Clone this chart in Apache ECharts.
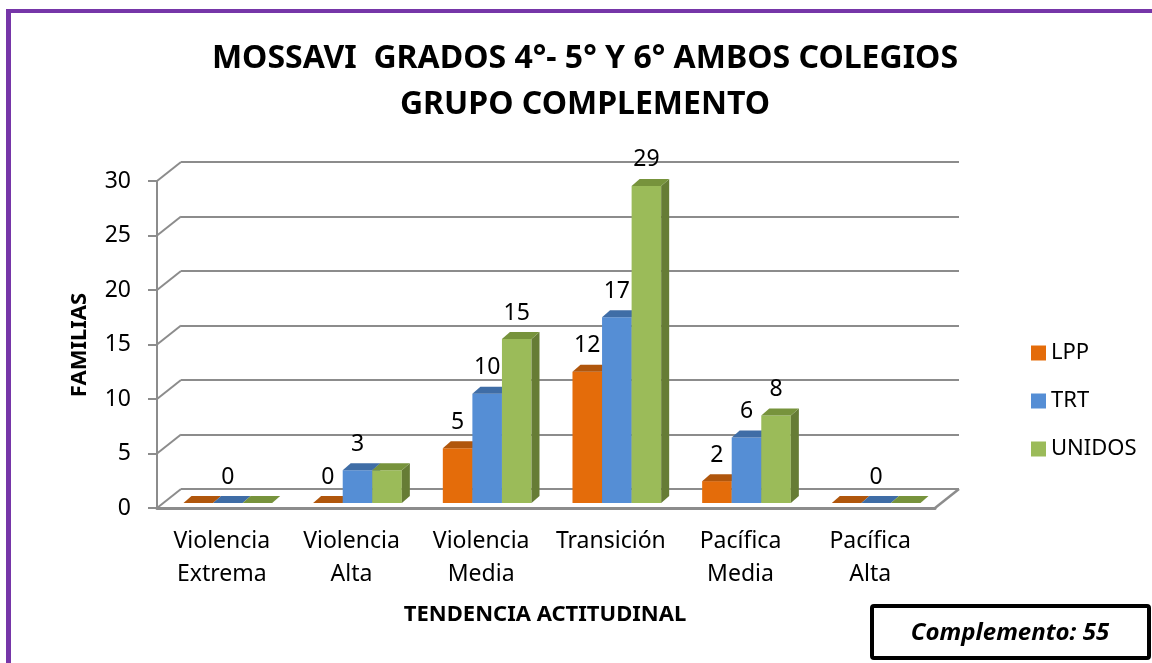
<!DOCTYPE html>
<html>
<head>
<meta charset="utf-8">
<title>MOSSAVI grupo complemento</title>
<script src="https://cdn.jsdelivr.net/npm/echarts@6/dist/echarts.min.js"></script>
<style>
  html, body { margin: 0; padding: 0; background: #fff; }
  #chart { width: 1152px; height: 663px; }
</style>
</head>
<body>
<div id="chart"></div>
<script>
// datos
const categories = ['Violencia\nExtrema', 'Violencia\nAlta', 'Violencia\nMedia', 'Transición', 'Pacífica\nMedia', 'Pacífica\nAlta']
const seriesNames = ['LPP', 'TRT', 'UNIDOS']
const lpp = [0, 0, 5, 12, 2, 0]
const trt = [0, 3, 10, 17, 6, 0]
const unidos = [0, 3, 15, 29, 8, 0]
// etiquetas visibles en el original
const lppLabels = [false, true, true, true, true, false]
const trtLabels = [true, true, true, true, true, true]
const unidosLabels = [false, false, true, true, true, false]
const yTicks = [0, 5, 10, 15, 20, 25, 30]

const FONT = '"Noto Sans", "DejaVu Sans", sans-serif'
const GRID_COLOR = '#8c8c8c'
// desplazamiento de la pared del fondo (perspectiva)
const DEPTH_X = 24
const DEPTH_Y = 19
// profundidad de cada barra
const BAR_DX = 8
const BAR_DY = 7

const colors = [
  { front: '#E46C0A', top: '#B0560C', side: '#A04E0A' },
  { front: '#558ED5', top: '#3F6DA6', side: '#3A6399' },
  { front: '#9BBB59', top: '#77933C', side: '#667C35' }
]

const chart = echarts.init(document.getElementById('chart'))

// barra 3D dibujada con las escalas del eje
const makeBarRender = (idx, labels) => (params, api) => {
  const ci = api.value(0)
  const v = api.value(1)
  const base = api.coord([ci, 0])
  const topP = api.coord([ci, v])
  const bw = api.size([1, 0])[0] * 0.228
  const x0 = base[0] - 1.5 * bw + idx * bw
  const x1 = x0 + bw
  const yb = base[1]
  const yt = topP[1]
  const c = colors[idx]
  const children = []
  if (yb - yt > 0.5) {
    children.push({ type: 'rect', shape: { x: x0, y: yt, width: bw, height: yb - yt }, style: { fill: c.front } })
    children.push({
      type: 'polygon',
      shape: { points: [[x1, yt], [x1 + BAR_DX, yt - BAR_DY], [x1 + BAR_DX, yb - BAR_DY], [x1, yb]] },
      style: { fill: c.side }
    })
  }
  children.push({
    type: 'polygon',
    shape: { points: [[x0, yt], [x1, yt], [x1 + BAR_DX, yt - BAR_DY], [x0 + BAR_DX, yt - BAR_DY]] },
    style: { fill: c.top }
  })
  if (labels[params.dataIndex]) {
    children.push({
      type: 'text',
      style: {
        text: String(v), x: (x0 + x1) / 2, y: yt - 26,
        align: 'center', verticalAlign: 'middle',
        fontSize: 23, fontFamily: FONT, fill: '#000'
      }
    })
  }
  return { type: 'group', children }
}

// diagonales de la pared izquierda y del piso
const renderDiagonals = (params, api) => {
  const cs = params.coordSys
  const v = api.value(1)
  const y = api.coord([0, v])[1]
  const lineStyle = { stroke: GRID_COLOR, lineWidth: 2 }
  const children = [{
    type: 'line',
    shape: { x1: cs.x, y1: y, x2: cs.x + DEPTH_X, y2: y - DEPTH_Y },
    style: lineStyle
  }]
  if (v === 0) {
    children.push({
      type: 'line',
      shape: { x1: cs.x + cs.width, y1: y, x2: cs.x + cs.width + DEPTH_X, y2: y - DEPTH_Y },
      style: { stroke: GRID_COLOR, lineWidth: 2.5 }
    })
  }
  return { type: 'group', children }
}

const valueAxisBase = { type: 'value', min: yTicks[0], max: yTicks[yTicks.length - 1], interval: yTicks[1] - yTicks[0] }

const option = {
  animation: false,
  title: {
    text: 'MOSSAVI  GRADOS 4°- 5° Y 6° AMBOS COLEGIOS\nGRUPO COMPLEMENTO',
    left: 580,
    top: 31,
    textAlign: 'center',
    textStyle: { fontFamily: FONT, fontSize: 32, fontWeight: 'bold', color: '#000', lineHeight: 46 }
  },
  legend: {
    orient: 'vertical',
    left: 1026,
    top: 337,
    icon: 'rect',
    itemWidth: 15,
    itemHeight: 15,
    itemGap: 26,
    data: seriesNames,
    textStyle: { fontFamily: FONT, fontSize: 22, color: '#000', lineHeight: 22 }
  },
  grid: [
    // barras
    { left: 163, top: 175, width: 778, height: 328 },
    // plano frontal (ejes)
    { left: 157, top: 181, width: 778, height: 327 },
    // pared del fondo
    { left: 181, top: 162, width: 778, height: 327 }
  ],
  xAxis: [
    { type: 'category', gridIndex: 0, data: categories, show: false },
    {
      type: 'category', gridIndex: 1, data: categories,
      axisLine: { lineStyle: { color: GRID_COLOR, width: 3 } },
      axisTick: { show: false },
      axisLabel: { fontFamily: FONT, fontSize: 23, color: '#000', lineHeight: 33, margin: 17, interval: 0 }
    },
    { type: 'category', gridIndex: 2, data: categories, show: false }
  ],
  yAxis: [
    { ...valueAxisBase, gridIndex: 0, show: false },
    {
      ...valueAxisBase, gridIndex: 1,
      axisLine: { show: true, lineStyle: { color: GRID_COLOR, width: 2 } },
      axisTick: { show: true, length: 9, lineStyle: { color: GRID_COLOR, width: 2 } },
      splitLine: { show: false },
      axisLabel: { fontFamily: FONT, fontSize: 23, color: '#000', margin: 26 }
    },
    {
      ...valueAxisBase, gridIndex: 2,
      axisLine: { show: false }, axisTick: { show: false }, axisLabel: { show: false },
      splitLine: { show: true, lineStyle: { color: GRID_COLOR, width: 2 } }
    }
  ],
  series: [
    {
      type: 'custom', name: 'diag', xAxisIndex: 1, yAxisIndex: 1, z: 1,
      renderItem: renderDiagonals,
      data: yTicks.map(t => [0, t]),
      silent: true
    },
    ...[lpp, trt, unidos].map((vals, i) => ({
      type: 'custom',
      name: seriesNames[i],
      xAxisIndex: 0,
      yAxisIndex: 0,
      z: 3,
      itemStyle: { color: colors[i].front },
      renderItem: makeBarRender(i, [lppLabels, trtLabels, unidosLabels][i]),
      encode: { x: 0, y: 1 },
      data: vals.map((v, ci) => [ci, v])
    }))
  ],
  graphic: [
    // marco morado
    { type: 'line', shape: { x1: 8.5, y1: 9, x2: 8.5, y2: 663 }, style: { stroke: '#7636A8', lineWidth: 5 } },
    { type: 'line', shape: { x1: 6, y1: 11, x2: 1152, y2: 11 }, style: { stroke: '#7636A8', lineWidth: 4 } },
    {
      type: 'text', x: 80, y: 345, rotation: Math.PI / 2,
      style: { text: 'FAMILIAS', fontFamily: FONT, fontSize: 22, fontWeight: 'bold', fill: '#000', align: 'center', verticalAlign: 'middle' }
    },
    {
      type: 'text', x: 545, y: 615,
      style: { text: 'TENDENCIA ACTITUDINAL', fontFamily: FONT, fontSize: 22, fontWeight: 'bold', fill: '#000', align: 'center', verticalAlign: 'middle' }
    },
    {
      type: 'rect', shape: { x: 872, y: 606, width: 277, height: 52, r: 2 },
      style: { fill: '#fff', stroke: '#000', lineWidth: 4 }
    },
    {
      type: 'text', x: 1010, y: 633,
      style: { text: 'Complemento: 55', fontFamily: FONT, fontSize: 24, fontWeight: 'bold', fontStyle: 'italic', fill: '#000', align: 'center', verticalAlign: 'middle' }
    }
  ]
}

chart.setOption(option)
</script>
</body>
</html>
